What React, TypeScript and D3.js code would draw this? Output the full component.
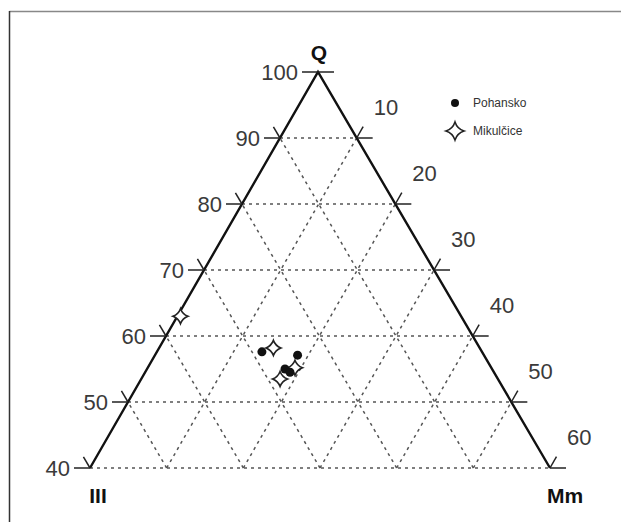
import React from "react";
import * as d3 from "d3";

const width = 621;
const height = 522;

// triangle corners (pixel) — Q apex, III bottom-left, Mm bottom-right
const apex = { x: 318, y: 72 };
const left = { x: 90, y: 468 };
const right = { x: 550, y: 468 };

const qTicks = [40, 50, 60, 70, 80, 90, 100];
const mmTicks = [10, 20, 30, 40, 50, 60];
const gridSteps = [10, 20, 30, 40, 50];

// values: Q, Mm (III = rest)
const pohanskoQ = [57.6, 57.1, 55.0, 54.5];
const pohanskoMm = [13.7, 18.6, 18.0, 18.9];
const mikulciceQ = [58.2, 55.2, 53.5, 63.0];
const mikulciceMm = [14.9, 19.2, 18.1, 0.4];

const yScale = d3.scaleLinear().domain([40, 100]).range([left.y, apex.y]);
const xScale = d3.scaleLinear().domain([0, 60]).range([left.x, right.x]);
const shift = d3.scaleLinear().domain([40, 100]).range([0, apex.x - left.x]);

function project(q: number, mm: number): [number, number] {
  return [xScale(mm) + shift(q), yScale(q)];
}

// four-pointed star with concave sides
function starPath(r: number, k: number) {
  const p = d3.path();
  p.moveTo(r, 0);
  p.quadraticCurveTo(k, k, 0, r);
  p.quadraticCurveTo(-k, k, -r, 0);
  p.quadraticCurveTo(-k, -k, 0, -r);
  p.quadraticCurveTo(k, -k, r, 0);
  p.closePath();
  return p.toString();
}

const edgeDir = (a: { x: number; y: number }, b: { x: number; y: number }) => {
  const dx = b.x - a.x;
  const dy = b.y - a.y;
  const len = Math.sqrt(dx * dx + dy * dy);
  return [dx / len, dy / len];
};

export default function App() {
  const grid = "#555";
  const dash = "3,4";
  const tickLen = 16;
  const slantLen = 13;
  const rDir = edgeDir(apex, right); // down-right along right edge
  const lDir = edgeDir(left, apex); // up-right along left edge

  const star = starPath(9, 2.2);
  const smallStar = starPath(7.5, 2);

  return (
    <svg
      width={width}
      height={height}
      style={{ position: "absolute", left: 0, top: 0, background: "#fff" }}
      fontFamily="Liberation Sans, Arial, sans-serif"
    >
      <rect width={width} height={height} fill="#fff" />
      {/* frame */}
      <line x1={9.5} y1={11.5} x2={width} y2={11.5} stroke="#888" strokeWidth={1.5} />
      <line x1={9.5} y1={11} x2={9.5} y2={height} stroke="#333" strokeWidth={1.5} />

      {/* dashed grid */}
      <g stroke={grid} strokeWidth={1.5} strokeDasharray={dash} fill="none">
        {[40, 50, 60, 70, 80, 90].map((q) => {
          const a = project(q, 0);
          const b = project(q, 100 - q);
          return <line key={"h" + q} x1={a[0]} y1={a[1]} x2={b[0]} y2={b[1]} />;
        })}
        {gridSteps.map((m) => {
          const a = project(40, m);
          const b = project(100 - m, m);
          return <line key={"m" + m} x1={a[0]} y1={a[1]} x2={b[0]} y2={b[1]} />;
        })}
        {gridSteps.map((iii) => {
          const a = project(40, 60 - iii);
          const b = project(100 - iii, 0);
          return <line key={"i" + iii} x1={a[0]} y1={a[1]} x2={b[0]} y2={b[1]} />;
        })}
      </g>

      {/* triangle edges */}
      <path
        d={d3.line()([
          [left.x, left.y],
          [apex.x, apex.y],
          [right.x, right.y],
        ]) as string}
        fill="none"
        stroke="#111"
        strokeWidth={2.4}
      />

      {/* ticks */}
      <g stroke="#222" strokeWidth={1.5}>
        {qTicks.map((q) => {
          const [x, y] = project(q, 0);
          return (
            <g key={"lt" + q}>
              <line x1={x} y1={y} x2={x - tickLen} y2={y} />
              {q < 100 && (
                <line x1={x} y1={y} x2={x - rDir[0] * slantLen} y2={y - rDir[1] * slantLen} />
              )}
            </g>
          );
        })}
        {mmTicks.map((m) => {
          const [x, y] = project(100 - m, m);
          return (
            <g key={"rt" + m}>
              <line x1={x} y1={y} x2={x + tickLen} y2={y} />
              <line x1={x} y1={y} x2={x + lDir[0] * slantLen} y2={y + lDir[1] * slantLen} />
            </g>
          );
        })}
        <line x1={apex.x} y1={apex.y} x2={apex.x + tickLen} y2={apex.y} />
      </g>
      <g fill="#3a3a3a" fontSize={22}>
        {qTicks.map((q) => {
          const [x, y] = project(q, 0);
          return (
            <text key={"ll" + q} x={x - 20} y={y} textAnchor="end" dominantBaseline="central">
              {q}
            </text>
          );
        })}
        {mmTicks.map((m) => {
          const [x, y] = project(100 - m, m);
          return (
            <text key={"rl" + m} x={x + 17} y={y - 31} textAnchor="start" dominantBaseline="central">
              {m}
            </text>
          );
        })}
      </g>

      {/* corner titles */}
      <g fontWeight="bold" fontSize={21} fill="#111" textAnchor="middle">
        <text x={apex.x + 1} y={60}>Q</text>
        <text x={left.x + 8} y={503}>III</text>
        <text x={right.x + 15} y={503}>Mm</text>
      </g>

      {/* data */}
      <g>
        {mikulciceQ.map((q, i) => {
          const [x, y] = project(q, mikulciceMm[i]);
          return (
            <path
              key={"mk" + i}
              d={smallStar}
              transform={`translate(${x},${y})`}
              fill="#fff"
              stroke="#222"
              strokeWidth={1.6}
            />
          );
        })}
        {pohanskoQ.map((q, i) => {
          const [x, y] = project(q, pohanskoMm[i]);
          return <circle key={"ph" + i} cx={x} cy={y} r={4.5} fill="#111" />;
        })}
      </g>

      {/* legend */}
      <g fontSize={12} fill="#333">
        <circle cx={455} cy={103} r={4} fill="#111" />
        <text x={473} y={103} dominantBaseline="central">Pohansko</text>
        <path d={star} transform="translate(455,131)" fill="#fff" stroke="#222" strokeWidth={1.6} />
        <text x={473} y={131} dominantBaseline="central">Mikulčice</text>
      </g>
    </svg>
  );
}
